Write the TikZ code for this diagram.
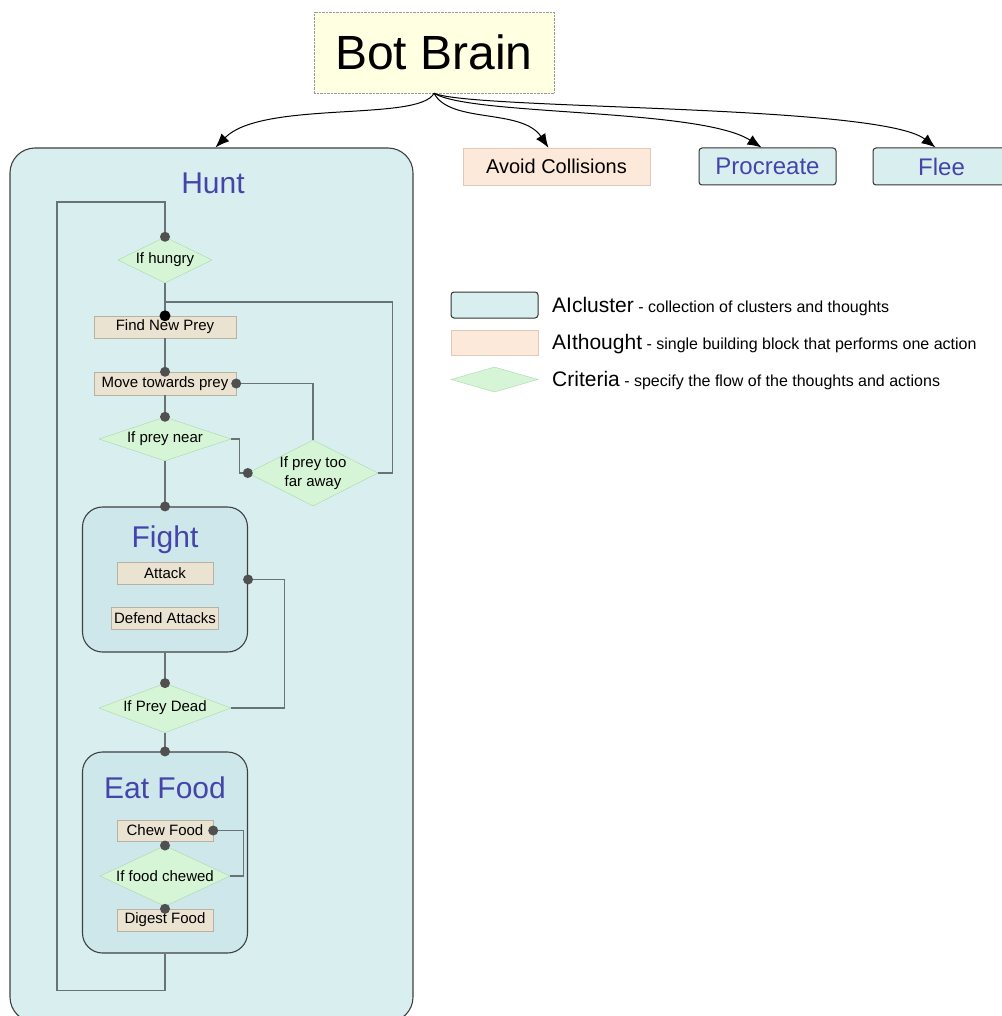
\documentclass[tikz,border=0pt]{standalone}
\usepackage{fontspec}
\setmainfont{Liberation Sans}
\usetikzlibrary{shapes.geometric,arrows.meta}

\definecolor{clusterc}{RGB}{217,238,239}
\definecolor{subc}{RGB}{206,231,235}
\definecolor{thoughtc}{RGB}{235,227,210}
\definecolor{thoughtb}{RGB}{185,178,160}
\definecolor{avoidc}{RGB}{253,233,217}
\definecolor{avoidb}{RGB}{222,202,182}
\definecolor{critc}{RGB}{214,245,214}
\definecolor{critb}{RGB}{170,215,170}
\definecolor{titlec}{RGB}{68,68,170}
\definecolor{linec}{RGB}{105,115,115}
\definecolor{dotc}{RGB}{80,80,80}
\definecolor{brainc}{RGB}{255,255,226}

\begin{document}
\begin{tikzpicture}[x=1pt,y=-1pt]
    \tikzset{
        cluster/.style={draw=black!75, fill=clusterc, rounded corners=25, line width=1.1},
        subcluster/.style={draw=black!75, fill=subc, rounded corners=20, line width=1.1, minimum width=165},
        thought/.style={draw=thoughtb, fill=thoughtc, inner sep=0, minimum height=22, font=\fontsize{15}{18}\selectfont},
        crit/.style={diamond, draw=critb, fill=critc, inner sep=-12, align=center, font=\fontsize{15}{19}\selectfont},
        title/.style={text=titlec, font=\fontsize{30}{34}\selectfont},
        topbox/.style={draw=black!80, fill=clusterc, rounded corners=3, line width=1, minimum height=37, text=titlec, font=\fontsize{24}{28}\selectfont},
        keytxt/.style={anchor=base west, inner sep=0, font=\fontsize{16}{18}\selectfont},
        link/.style={draw=linec, line width=1.1},
        arc/.style={-{Latex[length=14,width=11]}, line width=1}
    }

    \useasboundingbox (0,0) rectangle (1001,1016);

    \draw node[draw=black!40, densely dotted, fill=brainc, minimum width=240, minimum height=81, font=\fontsize{48}{52}\selectfont] (bot) at (434,52.5) {Bot Brain};

    \draw node[cluster, minimum width=403, minimum height=874] (hunt) at (211.5,585) {};
    \draw node[title] (hunttitle) at (213,183) {Hunt};
    \draw node[draw=avoidb, fill=avoidc, minimum width=187, minimum height=37, font=\fontsize{20}{24}\selectfont] (avoid) at (556.5,166.5) {Avoid Collisions};
    \draw node[topbox, minimum width=137] (procreate) at (767.5,166.5) {Procreate};
    \draw node[topbox, minimum width=137] (flee) at (941.5,166.5) {Flee};

    \draw[arc] (bot.south) .. controls (420,122) and (262,100) .. ([xshift=4]hunt.north);
    \draw[arc] (bot.south) .. controls (450,124) and (522,108) .. ([xshift=-8]avoid.north);
    \draw[arc] (bot.south) .. controls (470,116) and (700,108) .. ([xshift=-6]procreate.north);
    \draw[arc] (bot.south) .. controls (470,110) and (880,104) .. ([xshift=-6]flee.north);

    \draw node[crit, minimum width=94, minimum height=46] (hungry) at (165,260) {If hungry};
    \draw node[thought, minimum width=142] (find) at (165,327) {Find New Prey};
    \draw node[thought, minimum width=142, minimum height=23] (move) at (165,383.5) {Move towards prey};
    \draw node[crit, minimum width=132, minimum height=44] (near) at (165,439) {If prey near};
    \draw node[crit, minimum width=130, minimum height=66] (far) at (313,473) {If prey too\\far away};
    \coordinate (join) at (165,302);

    \draw node[subcluster, minimum height=145] (fight) at (165,579.5) {};
    \draw node[title] (fighttitle) at (165,540) {Fight};
    \draw node[thought, minimum width=96] (attack) at (165,573) {Attack};
    \draw node[thought, minimum width=107] (defend) at (165,618) {Defend Attacks};
    \draw node[crit, minimum width=132, minimum height=42] (dead) at (165,708) {If Prey Dead};

    \draw node[subcluster, minimum height=201] (eat) at (165,852.5) {};
    \draw node[title] (eattitle) at (165,788) {Eat Food};
    \draw node[thought, minimum width=96, minimum height=21] (chew) at (165,830.5) {Chew Food};
    \draw node[crit, minimum width=130, minimum height=43] (chewed) at (165,876) {If food chewed};
    \draw node[thought, minimum width=96] (digest) at (165,920) {Digest Food};

    \foreach \x/\y in {%
        hungry/find, find/move, move/near, near/fight, fight/dead, dead/eat, chew/chewed, chewed/digest%
    }{
        \draw[link] (\x.south) -- (\y.north);
    }
    \draw[link] (near.east) -- ++(8,0) |- (far.west);
    \draw[link] (far.north) |- (move.east);
    \draw[link] (far.east) -- ++(14,0) |- (join);
    \draw[link] (fight.east) -- ++(36,0) |- (dead.east);
    \draw[link] (chew.east) -- ++(30,0) |- (chewed.east);
    \draw[link] (eat.south) -- ++(0,37) -| (57,202) -| (hungry.north);

    \foreach \p in {hungry.north, move.north, move.east, near.north, far.west, fight.north, fight.east, dead.north, eat.north, chew.east, chewed.north, digest.north}{
        \fill[dotc] (\p) circle (5);
    }
    \fill[black] (find.north) circle (5.5);

    \draw node[draw=black!80, fill=clusterc, rounded corners=3, line width=1, minimum width=87, minimum height=26] (keycluster) at (494.5,305) {};
    \draw node[draw=avoidb, fill=avoidc, minimum width=87, minimum height=25] (keythought) at (494.5,342.5) {};
    \draw node[diamond, draw=critb, fill=critc, inner sep=-12, minimum width=87, minimum height=25] (keycrit) at (494.5,379.5) {};
    \draw node[keytxt] (keyclustertxt) at (552,312) {{\fontsize{21}{24}\selectfont AIcluster} - collection of clusters and thoughts};
    \draw node[keytxt] (keythoughttxt) at (552,349.5) {{\fontsize{21}{24}\selectfont AIthought} - single building block that performs one action};
    \draw node[keytxt] (keycrittxt) at (552,386.5) {{\fontsize{21}{24}\selectfont Criteria} - specify the flow of the thoughts and actions};
\end{tikzpicture}
\end{document}
